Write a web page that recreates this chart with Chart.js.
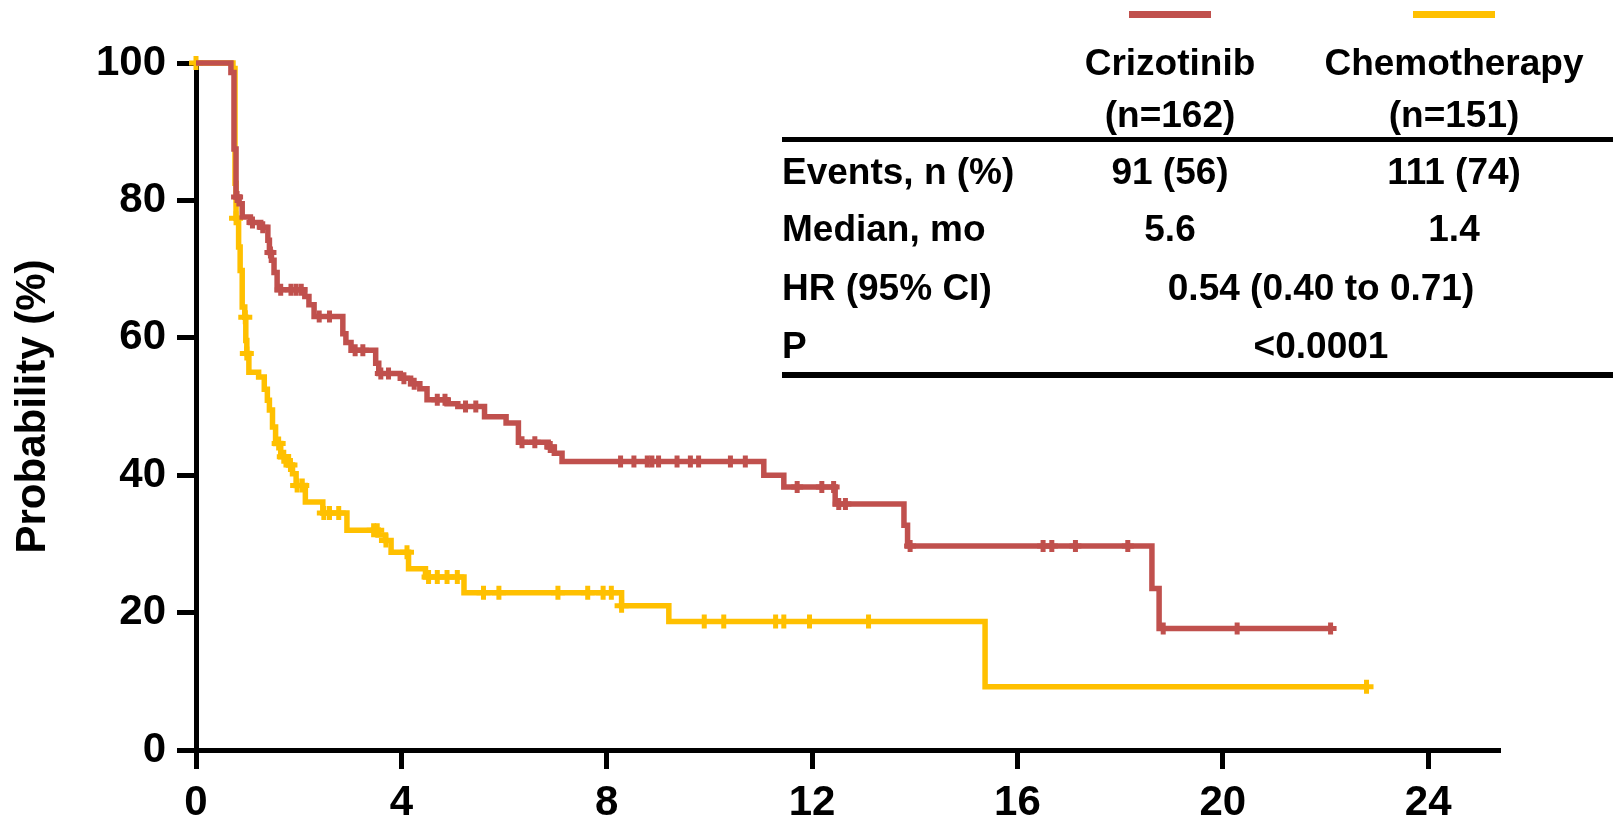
<!DOCTYPE html>
<html>
<head>
<meta charset="utf-8">
<title>Kaplan-Meier: Crizotinib vs Chemotherapy</title>
<script src="https://cdn.jsdelivr.net/npm/chart.js@4.4.1/dist/chart.umd.min.js"></script>
<style>
  html, body { margin: 0; padding: 0; background: #ffffff; }
  #wrap { width: 1622px; height: 823px; position: relative; }
</style>
</head>
<body>
<div id="wrap"><canvas id="km" width="1622" height="823"></canvas></div>
<script>
// ---- Survival estimates (months, % event-free) ----
const crizTimes = [0, 0.68, 0.74, 0.78, 0.84, 0.90, 1.06, 1.26, 1.40, 1.43, 1.47, 1.52, 1.58,
  2.12, 2.20, 2.30, 2.86, 2.92, 3.02, 3.50, 3.56, 3.98, 4.18, 4.36, 4.50, 4.89, 5.10, 5.62,
  6.04, 6.28, 6.86, 6.98, 7.13, 11.06, 11.45, 12.45, 13.79, 13.86, 18.62, 18.76, 22.10];
const crizSurv = [100, 98.6, 87.5, 80.5, 79.5, 77.6, 76.8, 76.1, 74.2, 72.4, 71.3, 69.5, 67.0,
  66.0, 64.8, 63.1, 60.6, 59.3, 58.2, 56.3, 54.8, 54.1, 53.3, 52.6, 51.0, 50.4, 50.0, 48.5,
  47.6, 44.8, 44.1, 43.2, 42.0, 40.0, 38.3, 35.8, 32.7, 29.7, 23.5, 17.7, 17.7];
const crizCensored = [0.80, 1.10, 1.30, 1.45, 1.65, 1.85, 1.95, 2.05, 2.40, 2.60, 3.10, 3.25,
  3.60, 3.75, 4.05, 4.25, 4.70, 4.85, 5.25, 5.45, 6.35, 6.60, 6.90, 8.27, 8.53, 8.79, 8.88,
  9.01, 9.37, 9.63, 9.79, 10.41, 10.70, 11.71, 12.19, 12.42, 12.52, 12.65, 13.91, 16.50,
  16.67, 17.13, 18.15, 18.84, 20.28, 22.10];

const chemoTimes = [0, 0.72, 0.76, 0.78, 0.83, 0.86, 0.90, 0.95, 0.97, 0.99, 1.03, 1.22, 1.33,
  1.39, 1.43, 1.49, 1.55, 1.65, 1.80, 1.88, 1.95, 2.13, 2.47, 2.94, 3.55, 3.69, 3.80, 4.14,
  4.47, 5.22, 8.29, 9.21, 15.37, 22.80];
const chemoSurv = [100, 99.2, 82.5, 77.4, 73.2, 69.8, 64.5, 63.0, 59.6, 57.7, 55.0, 54.3, 52.5,
  50.9, 49.5, 47.0, 44.6, 42.7, 41.5, 40.2, 38.5, 36.1, 34.5, 32.0, 31.3, 30.5, 28.8, 26.4,
  25.2, 22.9, 21.0, 18.7, 9.2, 9.2];
const chemoCensored = [0, 0.78, 0.96, 0.99, 1.61, 1.71, 1.84, 1.97, 2.07, 2.49, 2.60, 2.78,
  3.46, 3.53, 3.70, 4.11, 4.53, 4.70, 4.89, 5.09, 5.60, 5.90, 7.05, 7.63, 7.93, 8.09, 8.29,
  9.90, 10.28, 11.29, 11.45, 11.95, 13.10, 22.80];

// ---- Axis ticks ----
const xTickValues = [0, 4, 8, 12, 16, 20, 24];
const yTickValues = [0, 20, 40, 60, 80, 100];

// ---- Summary table ----
const armNames = ['Crizotinib', 'Chemotherapy'];
const armCounts = ['(n=162)', '(n=151)'];
const rowLabels = ['Events, n (%)', 'Median, mo', 'HR (95% CI)', 'P'];
const eventsByArm = ['91 (56)', '111 (74)'];
const medianByArm = ['5.6', '1.4'];
const hazardRatio = '0.54 (0.40 to 0.71)';
const pValue = '<0.0001';

const FONT = '"Liberation Sans", Arial, Helvetica, sans-serif';
const RED = '#C0504D';
const YELLOW = '#FFC000';

// value of a step function (Kaplan-Meier) at time t
function stepAt(times, values, t) {
  let v = values[0];
  for (let i = 0; i < times.length; i++) {
    if (times[i] <= t) v = values[i]; else break;
  }
  return v;
}
const toPoints = (ts, vs) => ts.map((t, i) => ({ x: t, y: vs[i] }));
const censorPoints = (cs, ts, vs) => cs.map(t => ({ x: t, y: stepAt(ts, vs, t) }));

const tablePlugin = {
  id: 'summaryTable',
  afterDraw(chart) {
    const c = chart.ctx;
    c.save();
    const colX = [1170, 1454];
    const spanX = 1321;
    // legend swatches over the arm columns
    c.fillStyle = RED;
    c.fillRect(colX[0] - 41, 11, 82, 7);
    c.fillStyle = YELLOW;
    c.fillRect(colX[1] - 41, 11, 82, 7);

    c.fillStyle = '#000';
    c.font = `bold 37px ${FONT}`;
    c.textBaseline = 'alphabetic';
    c.textAlign = 'center';
    armNames.forEach((n, i) => c.fillText(n, colX[i], 75));
    armCounts.forEach((n, i) => c.fillText(n, colX[i], 127));

    // rules
    c.fillRect(782, 137, 831, 5);
    c.fillRect(782, 372, 831, 6);

    const rowY = [184, 241, 300, 358];
    c.textAlign = 'left';
    rowLabels.forEach((l, i) => c.fillText(l, 782, rowY[i]));
    c.textAlign = 'center';
    eventsByArm.forEach((v, i) => c.fillText(v, colX[i], rowY[0]));
    medianByArm.forEach((v, i) => c.fillText(v, colX[i], rowY[1]));
    c.fillText(hazardRatio, spanX, rowY[2]);
    c.fillText(pValue, spanX, rowY[3]);
    c.restore();
  }
};

const tickFont = { family: FONT, size: 42, weight: 'bold' };

new Chart(document.getElementById('km'), {
  type: 'line',
  data: {
    datasets: [
      {
        label: 'Crizotinib',
        data: toPoints(crizTimes, crizSurv),
        borderColor: RED, backgroundColor: RED,
        borderWidth: 5.5, stepped: 'before', pointRadius: 0, fill: false, clip: false
      },
      {
        label: 'Crizotinib censored',
        type: 'scatter',
        data: censorPoints(crizCensored, crizTimes, crizSurv),
        borderColor: RED, backgroundColor: RED,
        pointStyle: 'cross', pointRadius: 6, pointBorderWidth: 5, showLine: false, clip: false
      },
      {
        label: 'Chemotherapy',
        data: toPoints(chemoTimes, chemoSurv),
        borderColor: YELLOW, backgroundColor: YELLOW,
        borderWidth: 5.5, stepped: 'before', pointRadius: 0, fill: false, clip: false
      },
      {
        label: 'Chemotherapy censored',
        type: 'scatter',
        data: censorPoints(chemoCensored, chemoTimes, chemoSurv),
        borderColor: YELLOW, backgroundColor: YELLOW,
        pointStyle: 'cross', pointRadius: 7, pointBorderWidth: 5, showLine: false, clip: false
      }
    ]
  },
  options: {
    responsive: false,
    animation: false,
    events: [],
    layout: { padding: { left: 0, top: 63, right: 122, bottom: 0 } },
    plugins: { legend: { display: false }, tooltip: { enabled: false } },
    scales: {
      x: {
        type: 'linear',
        min: 0, max: 25.4,
        afterBuildTicks: s => { s.ticks = xTickValues.map(v => ({ value: v })); },
        afterFit: s => { s.height = 73; },
        border: { display: true, color: '#000', width: 5 },
        grid: { drawOnChartArea: false, drawTicks: true, tickLength: 19, tickWidth: 5, color: '#000' },
        ticks: { font: tickFont, color: '#000', padding: 9, maxRotation: 0, autoSkip: false }
      },
      y: {
        type: 'linear',
        min: 0, max: 100,
        afterBuildTicks: s => { s.ticks = yTickValues.map(v => ({ value: v })); },
        afterFit: s => { s.width = 196; },
        border: { display: true, color: '#000', width: 5 },
        grid: { drawOnChartArea: false, drawTicks: true, tickLength: 19, tickWidth: 5, color: '#000' },
        ticks: { font: tickFont, color: '#000', padding: 11, autoSkip: false },
        title: {
          display: true, text: 'Probability (%)', color: '#000',
          font: { family: FONT, size: 42, weight: 'bold' },
          padding: { top: 8, bottom: 0 }
        }
      }
    }
  },
  plugins: [tablePlugin]
});
</script>
</body>
</html>
